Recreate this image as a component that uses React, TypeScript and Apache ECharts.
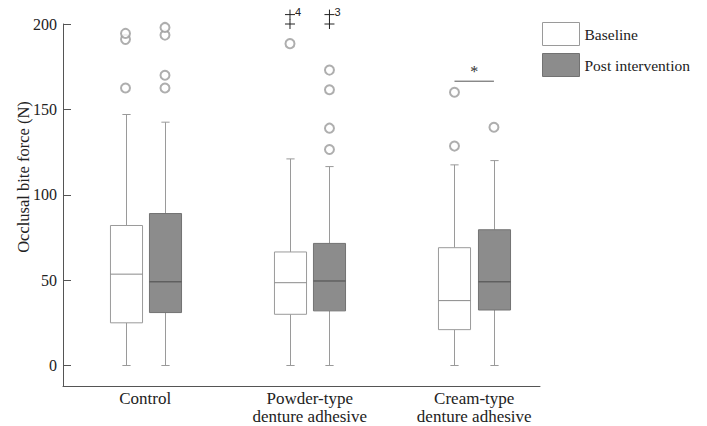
import React, { useEffect, useRef } from "react";
import * as echarts from "echarts";

// ---- data ----
const categories = ["Control", "Powder-type\ndenture adhesive", "Cream-type\ndenture adhesive"];
const seriesNames = ["Baseline", "Post intervention"];
const yAxisTitle = "Occlusal bite force (N)";
// [min, Q1, median, Q3, max] per group
const baselineStats = [
  [0, 25, 53.5, 82, 147],
  [0, 30, 48.5, 66.5, 121],
  [0, 21, 38, 69, 117.5],
];
const postStats = [
  [0, 31, 49, 89, 142.5],
  [0, 32, 49.5, 71.5, 116.5],
  [0, 32.5, 49, 79.5, 120],
];
// [groupIndex, value]
const baselineOutliers = [
  [0, 162.5], [0, 191], [0, 194.5],
  [1, 188.5],
  [2, 128.5], [2, 160],
];
const postOutliers = [
  [0, 162.5], [0, 170], [0, 193.5], [0, 198],
  [1, 126.5], [1, 139], [1, 161.5], [1, 173],
  [2, 139.5],
];
// extreme values: [groupIndex, value]
const baselineExtremes = [[1, 200], [1, 205.5]];
const baselineExtremeLabels = ["", "4"];
const postExtremes = [[1, 200], [1, 205.5]];
const postExtremeLabels = ["", "3"];
// significance markers
const sigGroups = [2];
const sigValues = [166.5];
const sigTexts = ["*"];
const yTicks = [0, 50, 100, 150, 200];

// ---- layout constants ----
const OFF_B = -0.12;
const OFF_P = 0.12;
const BOX_W = 0.195;
const CAP_W = 0.05;
const SERIF = "Liberation Serif";

const BASE_FILL = "#ffffff";
const BASE_STROKE = "#9a9a9a";
const POST_FILL = "#8c8c8c";
const POST_STROKE = "#727272";
const WHISKER = "#9a9a9a";

function makeBoxRender(offset: number, fill: string, stroke: string, median: string) {
  return (params: any, api: any) => {
    const x = api.value(0) + 0.5 + offset;
    const lo = api.coord([x, api.value(1)]);
    const q1 = api.coord([x, api.value(2)]);
    const md = api.coord([x, api.value(3)]);
    const q3 = api.coord([x, api.value(4)]);
    const hi = api.coord([x, api.value(5)]);
    const hw = api.size([BOX_W, 0])[0] / 2;
    const cw = api.size([CAP_W, 0])[0] / 2;
    const cx = Math.round(q1[0]) + 0.5;
    const ls = { stroke: WHISKER, lineWidth: 1 };
    return {
      type: "group",
      children: [
        { type: "line", shape: { x1: cx, y1: hi[1], x2: cx, y2: q3[1] }, style: ls },
        { type: "line", shape: { x1: cx, y1: q1[1], x2: cx, y2: lo[1] }, style: ls },
        { type: "line", shape: { x1: cx - cw, y1: hi[1], x2: cx + cw, y2: hi[1] }, style: ls },
        { type: "line", shape: { x1: cx - cw, y1: lo[1], x2: cx + cw, y2: lo[1] }, style: ls },
        {
          type: "rect",
          shape: { x: cx - hw, y: q3[1], width: hw * 2, height: q1[1] - q3[1] },
          style: { fill, stroke, lineWidth: 1 },
        },
        { type: "line", shape: { x1: cx - hw, y1: md[1], x2: cx + hw, y2: md[1] }, style: { stroke: median, lineWidth: 1 } },
      ],
    };
  };
}

function makeExtremeRender(offset: number, labels: string[]) {
  return (params: any, api: any) => {
    const x = api.value(0) + 0.5 + offset;
    const p = api.coord([x, api.value(1)]);
    const h = 5;
    const children: any[] = [
      { type: "line", shape: { x1: p[0] - h, y1: p[1], x2: p[0] + h, y2: p[1] }, style: { stroke: "#222", lineWidth: 1 } },
      { type: "line", shape: { x1: p[0], y1: p[1] - h, x2: p[0], y2: p[1] + h }, style: { stroke: "#222", lineWidth: 1 } },
    ];
    const t = labels[params.dataIndex];
    if (t) {
      children.push({
        type: "text",
        x: p[0] + 5,
        y: p[1] - 8,
        z2: 10,
        style: { text: t, fill: "#222", fontSize: 11, fontFamily: "Liberation Sans", align: "left", verticalAlign: "top" },
      });
    }
    return { type: "group", children };
  };
}

function sigRender(params: any, api: any) {
  const g = api.value(0);
  const v = api.value(1);
  const a = api.coord([g + 0.5 + OFF_B, v]);
  const b = api.coord([g + 0.5 + OFF_P, v]);
  return {
    type: "group",
    children: [
      { type: "line", shape: { x1: a[0], y1: a[1], x2: b[0], y2: b[1] }, style: { stroke: "#555", lineWidth: 1 } },
      {
        type: "text",
        x: (a[0] + b[0]) / 2,
        y: a[1] - 2,
        style: { text: sigTexts[params.dataIndex], fill: "#333", fontSize: 16, fontFamily: SERIF, align: "center", verticalAlign: "bottom" },
      },
    ],
  };
}

export default function App() {
  const ref = useRef<HTMLDivElement>(null);
  useEffect(() => {
    if (!ref.current) return;
    const chart = echarts.init(ref.current, null, { renderer: "svg" });
    const option: any = {
      animation: false,
      backgroundColor: "#ffffff",
      textStyle: { fontFamily: SERIF },
      grid: { left: 63, top: 24, width: 477, height: 362, containLabel: false },
      legend: {
        orient: "vertical",
        left: 542,
        top: 22,
        padding: 0,
        itemWidth: 37,
        itemHeight: 23,
        itemGap: 7,
        selectedMode: false,
        textStyle: { fontSize: 15.5, color: "#222", fontFamily: SERIF },
        data: [
          { name: seriesNames[0], icon: "rect", itemStyle: { color: BASE_FILL, borderColor: BASE_STROKE, borderWidth: 1 } },
          { name: seriesNames[1], icon: "rect", itemStyle: { color: POST_FILL, borderColor: POST_STROKE, borderWidth: 1 } },
        ],
      },
      graphic: [
        {
          type: "text",
          x: 23,
          y: 177,
          rotation: Math.PI / 2,
          style: { text: yAxisTitle, fill: "#222", fontSize: 16.5, fontFamily: SERIF, align: "center", verticalAlign: "middle" },
        },
      ],
      xAxis: {
        type: "value",
        min: 0,
        max: 2.9,
        splitLine: { show: false },
        axisTick: { show: false },
        axisLine: { show: true, onZero: false, lineStyle: { color: "#555", width: 1 } },
        axisLabel: {
          customValues: categories.map((_, i) => i + 0.5),
          formatter: (v: number) => {
            const i = Math.round(v - 0.5);
            return categories[i] ?? "";
          },
          fontSize: 17,
          lineHeight: 18,
          color: "#222",
          margin: 3,
          fontFamily: SERIF,
        },
      },
      yAxis: {
        type: "value",
        min: -12,
        max: 200,
        splitLine: { show: false },
        axisLine: { show: true, onZero: false, lineStyle: { color: "#555", width: 1 } },
        axisTick: { show: true, inside: true, length: 8, customValues: yTicks, lineStyle: { color: "#555" } },
        axisLabel: { customValues: yTicks, fontSize: 16, color: "#222", margin: 6, fontFamily: SERIF },
      },
      series: [
        {
          name: seriesNames[0],
          type: "custom",
          renderItem: makeBoxRender(OFF_B, BASE_FILL, BASE_STROKE, "#8a8a8a"),
          itemStyle: { color: BASE_FILL, borderColor: BASE_STROKE },
          encode: { x: 0, y: [1, 2, 3, 4, 5] },
          data: baselineStats.map((s, i) => [i, ...s]),
          clip: false,
          z: 2,
        },
        {
          name: seriesNames[1],
          type: "custom",
          renderItem: makeBoxRender(OFF_P, POST_FILL, POST_STROKE, "#4a4a4a"),
          itemStyle: { color: POST_FILL, borderColor: POST_STROKE },
          encode: { x: 0, y: [1, 2, 3, 4, 5] },
          data: postStats.map((s, i) => [i, ...s]),
          clip: false,
          z: 2,
        },
        {
          name: "Baseline outliers",
          type: "scatter",
          symbol: "emptyCircle",
          symbolSize: 9,
          itemStyle: { color: "#9a9a9a", borderWidth: 0.8 },
          data: baselineOutliers.map(([g, v]) => [g + 0.5 + OFF_B, v]),
          clip: false,
          z: 3,
        },
        {
          name: "Post outliers",
          type: "scatter",
          symbol: "emptyCircle",
          symbolSize: 9,
          itemStyle: { color: "#9a9a9a", borderWidth: 0.8 },
          data: postOutliers.map(([g, v]) => [g + 0.5 + OFF_P, v]),
          clip: false,
          z: 3,
        },
        {
          name: "Baseline extremes",
          type: "custom",
          renderItem: makeExtremeRender(OFF_B, baselineExtremeLabels),
          encode: { x: 0, y: 1 },
          data: baselineExtremes,
          clip: false,
          z: 3,
        },
        {
          name: "Post extremes",
          type: "custom",
          renderItem: makeExtremeRender(OFF_P, postExtremeLabels),
          encode: { x: 0, y: 1 },
          data: postExtremes,
          clip: false,
          z: 3,
        },
        {
          name: "Significance",
          type: "custom",
          renderItem: sigRender,
          encode: { x: 0, y: 1 },
          data: sigGroups.map((g, i) => [g, sigValues[i]]),
          clip: false,
          z: 3,
        },
      ],
    };
    chart.setOption(option);
    return () => chart.dispose();
  }, []);
  return (
    <div
      ref={ref}
      style={{ position: "absolute", left: 0, top: 0, width: 707, height: 426 }}
    />
  );
}
